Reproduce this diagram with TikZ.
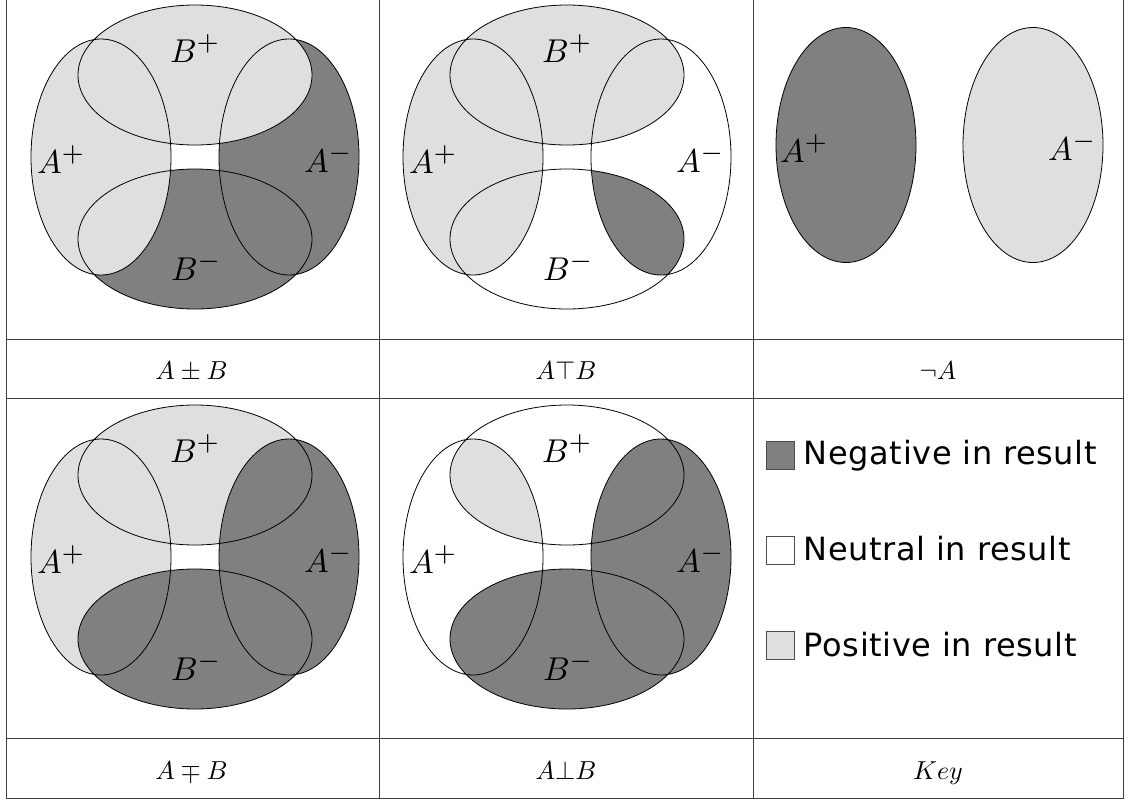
\documentclass[tikz,border=0pt]{standalone}
\usepackage{graphicx}
\usepackage{fontspec}
\newfontfamily\keyfont[LetterSpace=2]{DejaVu Sans}
\newcommand\BigLbl[2]{\scalebox{3.3}{$#1^{\mbox{\fontsize{8}{9}\selectfont$#2$}}$}}
\newcommand\CapLbl[1]{\scalebox{2.6}{$#1$}}
\begin{document}
\begin{tikzpicture}[x=1pt,y=-1pt]
\tikzset{
 dk/.style={fill=gray},
 lt/.style={fill=gray!25},
 ol/.style={draw=black, line width=0.8pt},
 lbl/.style={inner sep=0pt, anchor=base west},
 captxt/.style={inner sep=0pt, anchor=base},
 gridln/.style={draw=black!75, line width=1pt},
 keysq/.style={draw=black!70, line width=1pt, minimum size=28pt, inner sep=0pt},
 keytxt/.style={anchor=base west, inner sep=0pt, font=\keyfont\fontsize{32}{38}\selectfont}
}
\newcommand\ElAp[2]{(#1-94,#2) ellipse [x radius=70pt, y radius=118pt]}
\newcommand\ElAm[2]{(#1+94,#2) ellipse [x radius=70pt, y radius=118pt]}
\newcommand\ElBp[2]{(#1,#2-82) ellipse [x radius=117pt, y radius=70pt]}
\newcommand\ElBm[2]{(#1,#2+82) ellipse [x radius=117pt, y radius=70pt]}
\newcommand\PanelLabels[3]{%
 \node[lbl] (#1ap) at (#2-158,#3+16) {\BigLbl{A}{+}};
 \node[lbl] (#1am) at (#2+109,#3+15) {\BigLbl{A}{-}};
 \node[lbl] (#1bp) at (#2-25,#3-95) {\BigLbl{B}{+}};
 \node[lbl] (#1bm) at (#2-24,#3+123) {\BigLbl{B}{-}};
}
\useasboundingbox (0,0) rectangle (1130,801);
\fill[white] (0,0) rectangle (1130,801);

% Panel 1: A +- B
\fill[dk] \ElAm{195}{157};
\fill[dk] \ElBm{195}{157};
\fill[lt] \ElAp{195}{157};
\fill[lt] \ElBp{195}{157};
\draw[ol] \ElAp{195}{157} \ElAm{195}{157} \ElBp{195}{157} \ElBm{195}{157};
\PanelLabels{p}{195}{157}

% Panel 2: A T B
\fill[lt] \ElAp{567}{157};
\fill[lt] \ElBp{567}{157};
\begin{scope}
 \clip \ElAm{567}{157};
 \fill[dk] \ElBm{567}{157};
\end{scope}
\draw[ol] \ElAp{567}{157} \ElAm{567}{157} \ElBp{567}{157} \ElBm{567}{157};
\PanelLabels{q}{567}{157}

% Panel 3: not A
\filldraw[dk, ol] (846,145) ellipse [x radius=70pt, y radius=117.5pt];
\filldraw[lt, ol] (1033,145) ellipse [x radius=70pt, y radius=117.5pt];
\node[lbl] (nap) at (780,162) {\BigLbl{A}{+}};
\node[lbl] (nam) at (1048,160) {\BigLbl{A}{-}};

% Panel 4: A -+ B
\fill[lt] \ElAp{195}{557};
\fill[lt] \ElBp{195}{557};
\fill[dk] \ElAm{195}{557};
\fill[dk] \ElBm{195}{557};
\draw[ol] \ElAp{195}{557} \ElAm{195}{557} \ElBp{195}{557} \ElBm{195}{557};
\PanelLabels{r}{195}{557}

% Panel 5: A perp B
\begin{scope}
 \clip \ElAp{567}{557};
 \fill[lt] \ElBp{567}{557};
\end{scope}
\fill[dk] \ElAm{567}{557};
\fill[dk] \ElBm{567}{557};
\draw[ol] \ElAp{567}{557} \ElAm{567}{557} \ElBp{567}{557} \ElBm{567}{557};
\PanelLabels{s}{567}{557}

% Key
\node[keysq, fill=gray] (k1) at (780,455) {};
\node[keysq, fill=white] (k2) at (780,550) {};
\node[keysq, fill=gray!25] (k3) at (780,645) {};
\node[keytxt] (t1) at (803.5,464) {Negative in result};
\node[keytxt] (t2) at (803.5,560) {Neutral in result};
\node[keytxt] (t3) at (803.5,656) {Positive in result};

% Captions
\node[captxt] (c1) at (191.5,379.5) {\CapLbl{A \pm B}};
\node[captxt] (c2) at (566,379.5) {\CapLbl{A \top B}};
\node[captxt] (c3) at (938,379.5) {\CapLbl{\neg A}};
\node[captxt] (c4) at (191.5,779) {\CapLbl{A \mp B}};
\node[captxt] (c5) at (566,779) {\CapLbl{A \bot B}};
\node[captxt] (c6) at (938,779) {\CapLbl{Key}};

% Table
\draw[gridln] (6,-1) rectangle (1123,798);
\draw[gridln] (379,-1) -- (379,798);
\draw[gridln] (753,-1) -- (753,798);
\draw[gridln] (6,339) -- (1123,339);
\draw[gridln] (6,398) -- (1123,398);
\draw[gridln] (6,738) -- (1123,738);
\end{tikzpicture}
\end{document}
